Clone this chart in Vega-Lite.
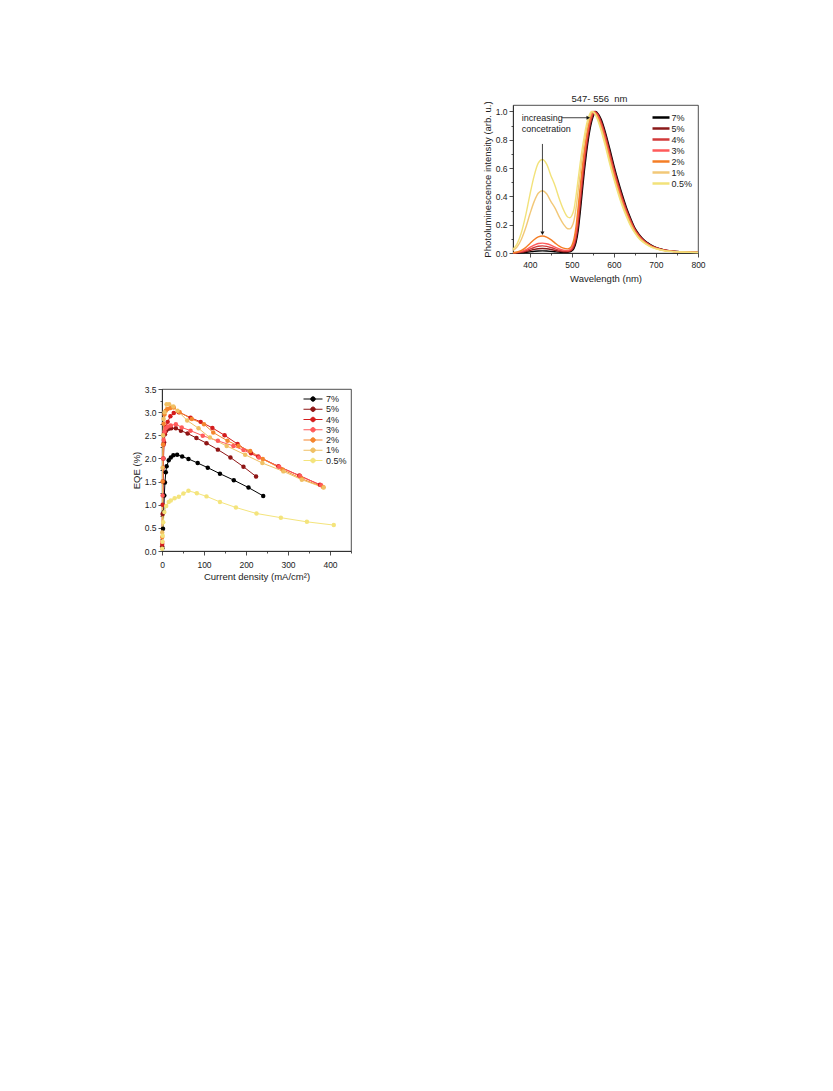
{
"$schema": "https://vega.github.io/schema/vega-lite/v6.json",
"background": "white",
"padding": {"left": 130, "top": 93, "right": 5, "bottom": 5},
"config": {
 "font": "Liberation Sans",
 "view": {"stroke": "#222222", "strokeWidth": 0.8},
 "axis": {"grid": false, "domainColor": "#222222", "domainWidth": 0.8, "tickColor": "#222222", "tickWidth": 0.8, "labelFont": "Liberation Sans", "labelFontSize": 8.5, "labelColor": "#222222", "titleFont": "Liberation Sans", "titleFontSize": 9.5, "titleFontWeight": "normal", "titleColor": "#222222", "labelPadding": 2, "titlePadding": 3, "labelOverlap": false, "labelFlush": false},
 "legend": {"labelFont": "Liberation Sans", "labelFontSize": 9, "labelColor": "#222222", "padding": 0}
},
"datasets": {
 "eqe": [
  {"c":"7%","j":0.8,"e":0.06},{"c":"7%","j":2.4,"e":0.48},{"c":"7%","j":4,"e":0.84},{"c":"7%","j":5.5,"e":1.2},{"c":"7%","j":7,"e":1.48},{"c":"7%","j":9,"e":1.7},{"c":"7%","j":11,"e":1.83},{"c":"7%","j":16,"e":1.96},{"c":"7%","j":21,"e":2.02},{"c":"7%","j":27,"e":2.07},{"c":"7%","j":36,"e":2.08},{"c":"7%","j":48,"e":2.04},{"c":"7%","j":63,"e":1.99},{"c":"7%","j":85,"e":1.9},{"c":"7%","j":109,"e":1.8},{"c":"7%","j":138,"e":1.67},{"c":"7%","j":171,"e":1.53},{"c":"7%","j":206,"e":1.37},{"c":"7%","j":241,"e":1.19},
  {"c":"5%","j":0.5,"e":0.1},{"c":"5%","j":1.5,"e":0.8},{"c":"5%","j":2.5,"e":1.5},{"c":"5%","j":3.5,"e":2.0},{"c":"5%","j":5,"e":2.35},{"c":"5%","j":7,"e":2.52},{"c":"5%","j":10,"e":2.6},{"c":"5%","j":16,"e":2.64},{"c":"5%","j":22,"e":2.65},{"c":"5%","j":33,"e":2.65},{"c":"5%","j":45,"e":2.6},{"c":"5%","j":61,"e":2.54},{"c":"5%","j":82,"e":2.44},{"c":"5%","j":106,"e":2.33},{"c":"5%","j":133,"e":2.19},{"c":"5%","j":163,"e":2.02},{"c":"5%","j":194,"e":1.82},{"c":"5%","j":224,"e":1.61},
  {"c":"4%","j":0.5,"e":0.15},{"c":"4%","j":1.5,"e":1.0},{"c":"4%","j":2.5,"e":1.8},{"c":"4%","j":4,"e":2.3},{"c":"4%","j":6,"e":2.55},{"c":"4%","j":9,"e":2.68},{"c":"4%","j":13.5,"e":2.79},{"c":"4%","j":20,"e":2.91},{"c":"4%","j":28,"e":2.98},{"c":"4%","j":40,"e":3.0},{"c":"4%","j":68,"e":2.88},{"c":"4%","j":92,"e":2.79},{"c":"4%","j":120,"e":2.66},{"c":"4%","j":149,"e":2.5},{"c":"4%","j":180,"e":2.31},{"c":"4%","j":212,"e":2.11},{"c":"4%","j":229,"e":2.04},{"c":"4%","j":277,"e":1.83},{"c":"4%","j":327,"e":1.63},{"c":"4%","j":376,"e":1.43},
  {"c":"3%","j":0.5,"e":0.2},{"c":"3%","j":1.5,"e":1.2},{"c":"3%","j":2.5,"e":2.0},{"c":"3%","j":4,"e":2.4},{"c":"3%","j":6,"e":2.58},{"c":"3%","j":9,"e":2.65},{"c":"3%","j":14,"e":2.69},{"c":"3%","j":21,"e":2.71},{"c":"3%","j":33,"e":2.74},{"c":"3%","j":47,"e":2.67},{"c":"3%","j":68,"e":2.6},{"c":"3%","j":97,"e":2.49},{"c":"3%","j":133,"e":2.38},{"c":"3%","j":170,"e":2.27},{"c":"3%","j":194,"e":2.18},{"c":"3%","j":231,"e":2.02},{"c":"3%","j":279,"e":1.82},{"c":"3%","j":329,"e":1.62},{"c":"3%","j":379,"e":1.42},
  {"c":"2%","j":0.5,"e":0.3},{"c":"2%","j":1.5,"e":1.5},{"c":"2%","j":2.5,"e":2.3},{"c":"2%","j":4,"e":2.75},{"c":"2%","j":6,"e":2.95},{"c":"2%","j":9,"e":3.03},{"c":"2%","j":13.5,"e":3.07},{"c":"2%","j":20,"e":3.09},{"c":"2%","j":28,"e":3.1},{"c":"2%","j":42,"e":3.0},{"c":"2%","j":71,"e":2.85},{"c":"2%","j":100,"e":2.74},{"c":"2%","j":122,"e":2.56},{"c":"2%","j":156,"e":2.38},{"c":"2%","j":182,"e":2.27},{"c":"2%","j":210,"e":2.16},{"c":"2%","j":240,"e":1.99},{"c":"2%","j":287,"e":1.76},{"c":"2%","j":333,"e":1.56},{"c":"2%","j":384,"e":1.38},
  {"c":"1%","j":0.5,"e":0.4},{"c":"1%","j":1.5,"e":1.8},{"c":"1%","j":2.5,"e":2.5},{"c":"1%","j":4,"e":2.85},{"c":"1%","j":6,"e":3.0},{"c":"1%","j":11,"e":3.17},{"c":"1%","j":17,"e":3.17},{"c":"1%","j":27,"e":3.12},{"c":"1%","j":37,"e":3.03},{"c":"1%","j":60,"e":2.82},{"c":"1%","j":87,"e":2.65},{"c":"1%","j":114,"e":2.45},{"c":"1%","j":154,"e":2.27},{"c":"1%","j":198,"e":2.08},{"c":"1%","j":239,"e":1.9},{"c":"1%","j":289,"e":1.72},{"c":"1%","j":333,"e":1.54},{"c":"1%","j":385,"e":1.37},
  {"c":"0.5%","j":0.3,"e":0.05},{"c":"0.5%","j":1,"e":0.2},{"c":"0.5%","j":1.6,"e":0.33},{"c":"0.5%","j":3,"e":0.62},{"c":"0.5%","j":5.6,"e":0.84},{"c":"0.5%","j":10,"e":0.97},{"c":"0.5%","j":16,"e":1.06},{"c":"0.5%","j":21,"e":1.09},{"c":"0.5%","j":30,"e":1.14},{"c":"0.5%","j":40,"e":1.17},{"c":"0.5%","j":51,"e":1.24},{"c":"0.5%","j":63,"e":1.3},{"c":"0.5%","j":83,"e":1.25},{"c":"0.5%","j":106,"e":1.18},{"c":"0.5%","j":138,"e":1.06},{"c":"0.5%","j":176,"e":0.94},{"c":"0.5%","j":225,"e":0.81},{"c":"0.5%","j":283,"e":0.72},{"c":"0.5%","j":345,"e":0.63},{"c":"0.5%","j":409,"e":0.56}
 ],
 "pl": [
  {"c":"7%","w":360,"v":0.0003},{"c":"7%","w":370,"v":0.0009},{"c":"7%","w":380,"v":0.0023},{"c":"7%","w":390,"v":0.0048},{"c":"7%","w":400,"v":0.0083},{"c":"7%","w":410,"v":0.0117},{"c":"7%","w":420,"v":0.0143},{"c":"7%","w":430,"v":0.015},{"c":"7%","w":440,"v":0.014},{"c":"7%","w":450,"v":0.0117},{"c":"7%","w":460,"v":0.0087},{"c":"7%","w":470,"v":0.006},{"c":"7%","w":480,"v":0.0044},{"c":"7%","w":490,"v":0.0053},{"c":"7%","w":495,"v":0.0083},{"c":"7%","w":500,"v":0.015},{"c":"7%","w":505,"v":0.033},{"c":"7%","w":510,"v":0.075},{"c":"7%","w":515,"v":0.157},{"c":"7%","w":520,"v":0.29},{"c":"7%","w":525,"v":0.44},{"c":"7%","w":530,"v":0.586},{"c":"7%","w":535,"v":0.712},{"c":"7%","w":540,"v":0.818},{"c":"7%","w":545,"v":0.902},{"c":"7%","w":550,"v":0.958},{"c":"7%","w":555,"v":0.995},{"c":"7%","w":556,"v":1.0},{"c":"7%","w":560,"v":0.992},{"c":"7%","w":570,"v":0.942},{"c":"7%","w":580,"v":0.85},{"c":"7%","w":590,"v":0.738},{"c":"7%","w":600,"v":0.619},{"c":"7%","w":610,"v":0.51},{"c":"7%","w":620,"v":0.411},{"c":"7%","w":630,"v":0.32},{"c":"7%","w":640,"v":0.244},{"c":"7%","w":650,"v":0.176},{"c":"7%","w":660,"v":0.132},{"c":"7%","w":670,"v":0.097},{"c":"7%","w":680,"v":0.073},{"c":"7%","w":690,"v":0.054},{"c":"7%","w":700,"v":0.04},{"c":"7%","w":720,"v":0.022},{"c":"7%","w":740,"v":0.013},{"c":"7%","w":760,"v":0.0088},{"c":"7%","w":780,"v":0.0062},{"c":"7%","w":800,"v":0.0046},
  {"c":"5%","w":360,"v":0.0006},{"c":"5%","w":370,"v":0.0019},{"c":"5%","w":380,"v":0.0048},{"c":"5%","w":390,"v":0.0102},{"c":"5%","w":400,"v":0.0176},{"c":"5%","w":410,"v":0.025},{"c":"5%","w":420,"v":0.0304},{"c":"5%","w":430,"v":0.032},{"c":"5%","w":440,"v":0.0298},{"c":"5%","w":450,"v":0.025},{"c":"5%","w":460,"v":0.0186},{"c":"5%","w":470,"v":0.0128},{"c":"5%","w":480,"v":0.009},{"c":"5%","w":490,"v":0.009},{"c":"5%","w":495,"v":0.012},{"c":"5%","w":500,"v":0.021},{"c":"5%","w":505,"v":0.045},{"c":"5%","w":510,"v":0.097},{"c":"5%","w":515,"v":0.196},{"c":"5%","w":520,"v":0.336},{"c":"5%","w":525,"v":0.485},{"c":"5%","w":530,"v":0.625},{"c":"5%","w":535,"v":0.745},{"c":"5%","w":540,"v":0.845},{"c":"5%","w":545,"v":0.92},{"c":"5%","w":550,"v":0.97},{"c":"5%","w":554.5,"v":1.0},{"c":"5%","w":560,"v":0.988},{"c":"5%","w":570,"v":0.93},{"c":"5%","w":580,"v":0.835},{"c":"5%","w":590,"v":0.72},{"c":"5%","w":600,"v":0.603},{"c":"5%","w":610,"v":0.495},{"c":"5%","w":620,"v":0.398},{"c":"5%","w":630,"v":0.309},{"c":"5%","w":640,"v":0.235},{"c":"5%","w":650,"v":0.17},{"c":"5%","w":660,"v":0.127},{"c":"5%","w":670,"v":0.094},{"c":"5%","w":680,"v":0.07},{"c":"5%","w":690,"v":0.051},{"c":"5%","w":700,"v":0.038},{"c":"5%","w":720,"v":0.021},{"c":"5%","w":740,"v":0.0125},{"c":"5%","w":760,"v":0.0085},{"c":"5%","w":780,"v":0.006},{"c":"5%","w":800,"v":0.0045},
  {"c":"4%","w":360,"v":0.001},{"c":"4%","w":370,"v":0.003},{"c":"4%","w":380,"v":0.0075},{"c":"4%","w":390,"v":0.016},{"c":"4%","w":400,"v":0.0275},{"c":"4%","w":410,"v":0.039},{"c":"4%","w":420,"v":0.0475},{"c":"4%","w":430,"v":0.05},{"c":"4%","w":440,"v":0.0465},{"c":"4%","w":450,"v":0.039},{"c":"4%","w":460,"v":0.029},{"c":"4%","w":470,"v":0.02},{"c":"4%","w":480,"v":0.014},{"c":"4%","w":490,"v":0.013},{"c":"4%","w":495,"v":0.017},{"c":"4%","w":500,"v":0.028},{"c":"4%","w":505,"v":0.058},{"c":"4%","w":510,"v":0.119},{"c":"4%","w":515,"v":0.236},{"c":"4%","w":520,"v":0.381},{"c":"4%","w":525,"v":0.53},{"c":"4%","w":530,"v":0.664},{"c":"4%","w":535,"v":0.778},{"c":"4%","w":540,"v":0.872},{"c":"4%","w":545,"v":0.938},{"c":"4%","w":550,"v":0.982},{"c":"4%","w":553,"v":1.0},{"c":"4%","w":560,"v":0.983},{"c":"4%","w":570,"v":0.918},{"c":"4%","w":580,"v":0.82},{"c":"4%","w":590,"v":0.702},{"c":"4%","w":600,"v":0.586},{"c":"4%","w":610,"v":0.478},{"c":"4%","w":620,"v":0.384},{"c":"4%","w":630,"v":0.298},{"c":"4%","w":640,"v":0.226},{"c":"4%","w":650,"v":0.164},{"c":"4%","w":660,"v":0.122},{"c":"4%","w":670,"v":0.09},{"c":"4%","w":680,"v":0.067},{"c":"4%","w":690,"v":0.049},{"c":"4%","w":700,"v":0.037},{"c":"4%","w":720,"v":0.02},{"c":"4%","w":740,"v":0.012},{"c":"4%","w":760,"v":0.0082},{"c":"4%","w":780,"v":0.0058},{"c":"4%","w":800,"v":0.0044},
  {"c":"3%","w":360,"v":0.001},{"c":"3%","w":370,"v":0.004},{"c":"3%","w":380,"v":0.011},{"c":"3%","w":390,"v":0.022},{"c":"3%","w":400,"v":0.039},{"c":"3%","w":410,"v":0.055},{"c":"3%","w":420,"v":0.067},{"c":"3%","w":430,"v":0.07},{"c":"3%","w":440,"v":0.065},{"c":"3%","w":450,"v":0.055},{"c":"3%","w":460,"v":0.041},{"c":"3%","w":470,"v":0.028},{"c":"3%","w":480,"v":0.02},{"c":"3%","w":490,"v":0.018},{"c":"3%","w":495,"v":0.022},{"c":"3%","w":500,"v":0.037},{"c":"3%","w":505,"v":0.073},{"c":"3%","w":510,"v":0.147},{"c":"3%","w":515,"v":0.278},{"c":"3%","w":520,"v":0.426},{"c":"3%","w":525,"v":0.574},{"c":"3%","w":530,"v":0.701},{"c":"3%","w":535,"v":0.809},{"c":"3%","w":540,"v":0.896},{"c":"3%","w":545,"v":0.954},{"c":"3%","w":551.5,"v":1.0},{"c":"3%","w":560,"v":0.977},{"c":"3%","w":570,"v":0.905},{"c":"3%","w":580,"v":0.804},{"c":"3%","w":590,"v":0.684},{"c":"3%","w":600,"v":0.57},{"c":"3%","w":610,"v":0.465},{"c":"3%","w":620,"v":0.37},{"c":"3%","w":630,"v":0.287},{"c":"3%","w":640,"v":0.217},{"c":"3%","w":650,"v":0.158},{"c":"3%","w":660,"v":0.117},{"c":"3%","w":670,"v":0.086},{"c":"3%","w":680,"v":0.064},{"c":"3%","w":690,"v":0.047},{"c":"3%","w":700,"v":0.035},{"c":"3%","w":720,"v":0.019},{"c":"3%","w":740,"v":0.0115},{"c":"3%","w":760,"v":0.0079},{"c":"3%","w":780,"v":0.0056},{"c":"3%","w":800,"v":0.0043},
  {"c":"2%","w":360,"v":0.002},{"c":"2%","w":370,"v":0.007},{"c":"2%","w":380,"v":0.018},{"c":"2%","w":390,"v":0.038},{"c":"2%","w":400,"v":0.066},{"c":"2%","w":410,"v":0.094},{"c":"2%","w":420,"v":0.114},{"c":"2%","w":430,"v":0.12},{"c":"2%","w":440,"v":0.112},{"c":"2%","w":450,"v":0.094},{"c":"2%","w":460,"v":0.07},{"c":"2%","w":470,"v":0.048},{"c":"2%","w":480,"v":0.034},{"c":"2%","w":490,"v":0.029},{"c":"2%","w":495,"v":0.034},{"c":"2%","w":500,"v":0.053},{"c":"2%","w":505,"v":0.099},{"c":"2%","w":510,"v":0.189},{"c":"2%","w":515,"v":0.325},{"c":"2%","w":520,"v":0.472},{"c":"2%","w":525,"v":0.613},{"c":"2%","w":530,"v":0.734},{"c":"2%","w":535,"v":0.836},{"c":"2%","w":540,"v":0.914},{"c":"2%","w":545,"v":0.966},{"c":"2%","w":550,"v":1.0},{"c":"2%","w":555,"v":0.989},{"c":"2%","w":560,"v":0.968},{"c":"2%","w":570,"v":0.89},{"c":"2%","w":580,"v":0.786},{"c":"2%","w":590,"v":0.666},{"c":"2%","w":600,"v":0.553},{"c":"2%","w":610,"v":0.45},{"c":"2%","w":620,"v":0.357},{"c":"2%","w":630,"v":0.277},{"c":"2%","w":640,"v":0.208},{"c":"2%","w":650,"v":0.152},{"c":"2%","w":660,"v":0.111},{"c":"2%","w":670,"v":0.082},{"c":"2%","w":680,"v":0.061},{"c":"2%","w":690,"v":0.045},{"c":"2%","w":700,"v":0.033},{"c":"2%","w":720,"v":0.018},{"c":"2%","w":740,"v":0.011},{"c":"2%","w":760,"v":0.0076},{"c":"2%","w":780,"v":0.0054},{"c":"2%","w":800,"v":0.0042},
  {"c":"1%","w":360,"v":0.018},{"c":"1%","w":370,"v":0.044},{"c":"1%","w":380,"v":0.097},{"c":"1%","w":390,"v":0.176},{"c":"1%","w":400,"v":0.273},{"c":"1%","w":410,"v":0.361},{"c":"1%","w":420,"v":0.422},{"c":"1%","w":430,"v":0.44},{"c":"1%","w":440,"v":0.418},{"c":"1%","w":450,"v":0.365},{"c":"1%","w":460,"v":0.317},{"c":"1%","w":470,"v":0.255},{"c":"1%","w":480,"v":0.204},{"c":"1%","w":490,"v":0.171},{"c":"1%","w":495,"v":0.17},{"c":"1%","w":500,"v":0.186},{"c":"1%","w":505,"v":0.228},{"c":"1%","w":510,"v":0.318},{"c":"1%","w":515,"v":0.44},{"c":"1%","w":520,"v":0.568},{"c":"1%","w":525,"v":0.686},{"c":"1%","w":530,"v":0.789},{"c":"1%","w":535,"v":0.876},{"c":"1%","w":540,"v":0.941},{"c":"1%","w":545,"v":0.982},{"c":"1%","w":548,"v":1.0},{"c":"1%","w":555,"v":0.985},{"c":"1%","w":560,"v":0.959},{"c":"1%","w":570,"v":0.875},{"c":"1%","w":580,"v":0.768},{"c":"1%","w":590,"v":0.648},{"c":"1%","w":600,"v":0.536},{"c":"1%","w":610,"v":0.435},{"c":"1%","w":620,"v":0.344},{"c":"1%","w":630,"v":0.266},{"c":"1%","w":640,"v":0.199},{"c":"1%","w":650,"v":0.146},{"c":"1%","w":660,"v":0.106},{"c":"1%","w":670,"v":0.079},{"c":"1%","w":680,"v":0.058},{"c":"1%","w":690,"v":0.042},{"c":"1%","w":700,"v":0.031},{"c":"1%","w":720,"v":0.017},{"c":"1%","w":740,"v":0.0105},{"c":"1%","w":760,"v":0.0073},{"c":"1%","w":780,"v":0.0052},{"c":"1%","w":800,"v":0.004},
  {"c":"0.5%","w":360,"v":0.026},{"c":"0.5%","w":370,"v":0.066},{"c":"0.5%","w":380,"v":0.145},{"c":"0.5%","w":390,"v":0.264},{"c":"0.5%","w":400,"v":0.409},{"c":"0.5%","w":410,"v":0.541},{"c":"0.5%","w":420,"v":0.634},{"c":"0.5%","w":430,"v":0.66},{"c":"0.5%","w":440,"v":0.627},{"c":"0.5%","w":450,"v":0.548},{"c":"0.5%","w":460,"v":0.475},{"c":"0.5%","w":470,"v":0.383},{"c":"0.5%","w":480,"v":0.306},{"c":"0.5%","w":490,"v":0.254},{"c":"0.5%","w":495,"v":0.249},{"c":"0.5%","w":500,"v":0.265},{"c":"0.5%","w":505,"v":0.308},{"c":"0.5%","w":510,"v":0.405},{"c":"0.5%","w":515,"v":0.522},{"c":"0.5%","w":520,"v":0.639},{"c":"0.5%","w":525,"v":0.743},{"c":"0.5%","w":530,"v":0.833},{"c":"0.5%","w":535,"v":0.91},{"c":"0.5%","w":540,"v":0.963},{"c":"0.5%","w":547,"v":1.0},{"c":"0.5%","w":555,"v":0.98},{"c":"0.5%","w":560,"v":0.95},{"c":"0.5%","w":570,"v":0.86},{"c":"0.5%","w":580,"v":0.75},{"c":"0.5%","w":590,"v":0.63},{"c":"0.5%","w":600,"v":0.52},{"c":"0.5%","w":610,"v":0.42},{"c":"0.5%","w":620,"v":0.33},{"c":"0.5%","w":630,"v":0.255},{"c":"0.5%","w":640,"v":0.19},{"c":"0.5%","w":650,"v":0.14},{"c":"0.5%","w":660,"v":0.1},{"c":"0.5%","w":670,"v":0.075},{"c":"0.5%","w":680,"v":0.055},{"c":"0.5%","w":690,"v":0.04},{"c":"0.5%","w":700,"v":0.03},{"c":"0.5%","w":720,"v":0.016},{"c":"0.5%","w":740,"v":0.01},{"c":"0.5%","w":760,"v":0.007},{"c":"0.5%","w":780,"v":0.005},{"c":"0.5%","w":800,"v":0.004}
 ],
 "arrows": [{"a":"h","w":476,"v":0.955},{"a":"h","w":536,"v":0.955},{"a":"v","w":430,"v":0.77},{"a":"v","w":430,"v":0.15}],
 "heads": [{"w":539,"v":0.955,"s":"triangle-right"},{"w":430,"v":0.14,"s":"triangle-down"}],
 "notes": [{"w":381,"v":0.955,"t":"increasing"},{"w":381,"v":0.877,"t":"concetration"}]
},
"resolve": {"scale": {"color": "independent"}},
"bounds": "flush",
"spacing": 351,
"hconcat": [
 {"bounds": "flush", "spacing": 83, "vconcat": [
  {"width": 189, "height": 201, "data": {"values": [{"k": 1}]}, "mark": {"type": "text", "text": " "}, "encoding": {}, "view": {"stroke": null}},
  {"width": 189, "height": 162, "data": {"name": "eqe"},
   "encoding": {
    "x": {"field": "j", "type": "quantitative", "scale": {"domain": [0, 450], "nice": false, "zero": false},
      "axis": {"title": "Current density (mA/cm²)", "values": [0,50,100,150,200,250,300,350,400,450], "labelExpr": "datum.value % 100 === 0 ? datum.label : ''", "tickSize": {"condition": {"test": "datum.value % 100 === 0", "value": 4}, "value": 2}, "labelPadding": 5}},
    "y": {"field": "e", "type": "quantitative", "scale": {"domain": [0, 3.5], "nice": false},
      "axis": {"title": "EQE (%)", "values": [0,0.25,0.5,0.75,1,1.25,1.5,1.75,2,2.25,2.5,2.75,3,3.25,3.5], "format": ".1f", "labelExpr": "round(datum.value*4) % 2 === 0 ? datum.label : ''", "tickSize": {"condition": {"test": "round(datum.value*4) % 2 === 0", "value": 4}, "value": 2}}},
    "color": {"field": "c", "type": "nominal", "sort": ["7%","5%","4%","3%","2%","1%","0.5%"],
      "scale": {"domain": ["7%","5%","4%","3%","2%","1%","0.5%"], "range": ["#000000","#8f1515","#d41c1c","#ff5a5a","#f5852e","#f0c064","#f4e47c"]},
      "legend": {"title": null, "orient": "none", "legendX": 146, "legendY": 289, "symbolType": "M-2.11,0H2.11M-0.5,0A0.5,0.5,0,1,1,0.5,0A0.5,0.5,0,1,1,-0.5,0Z", "symbolSize": 81, "symbolStrokeWidth": 1, "labelOffset": 8, "rowPadding": 0.25,
        "encode": {"symbols": {"update": {
          "fill": {"signal": "datum.value==='7%'?'#000000':datum.value==='5%'?'#8f1515':datum.value==='4%'?'#d41c1c':datum.value==='3%'?'#ff5a5a':datum.value==='2%'?'#f5852e':datum.value==='1%'?'#f0c064':'#f4e47c'"},
          "stroke": {"signal": "datum.value==='7%'?'#000000':datum.value==='5%'?'#8f1515':datum.value==='4%'?'#d41c1c':datum.value==='3%'?'#ff5a5a':datum.value==='2%'?'#f5852e':datum.value==='1%'?'#f0c064':'#f4e47c'"},
          "opacity": {"value": 1}, "fillOpacity": {"value": 1}, "strokeOpacity": {"value": 1}}}}}}
   },
   "layer": [
    {"mark": {"type": "line", "strokeWidth": 1}},
    {"mark": {"type": "point", "filled": true, "size": 20, "opacity": 1}}
   ]}
 ]},
 {"width": 185, "height": 148,
  "title": {"text": "547- 556\u00a0 nm", "fontSize": 9.5, "fontWeight": "normal", "font": "Liberation Sans", "color": "#222222", "offset": -3, "dx": -6},
  "encoding": {
   "x": {"field": "w", "type": "quantitative", "scale": {"domain": [360, 800], "nice": false, "zero": false},
     "axis": {"title": "Wavelength (nm)", "values": [400,450,500,550,600,650,700,750,800], "labelExpr": "datum.value % 100 === 0 ? datum.label : ''", "tickSize": {"condition": {"test": "datum.value % 100 === 0", "value": 4}, "value": 2}, "labelPadding": 3, "titlePadding": 5}},
   "y": {"field": "v", "type": "quantitative", "scale": {"domain": [0, 1.045], "nice": false},
     "axis": {"title": "Photoluminescence intensity (arb. u.)", "values": [0,0.1,0.2,0.3,0.4,0.5,0.6,0.7,0.8,0.9,1.0], "format": ".1f", "labelExpr": "round(datum.value*10) % 2 === 0 ? datum.label : ''", "tickSize": {"condition": {"test": "round(datum.value*10) % 2 === 0", "value": 4}, "value": 2}}}
  },
  "layer": [
   {"data": {"name": "pl"}, "mark": {"type": "line", "strokeWidth": 1.4, "interpolate": "monotone"},
    "encoding": {"color": {"field": "c", "type": "nominal", "sort": ["7%","5%","4%","3%","2%","1%","0.5%"],
      "scale": {"domain": ["7%","5%","4%","3%","2%","1%","0.5%"], "range": ["#000000","#8b1a1a","#d23a3a","#ff5a5a","#f47e26","#f2c878","#f2e27a"]},
      "legend": {"title": null, "orient": "none", "legendX": 142.5, "legendY": 7, "symbolType": "M-2.125,0H2.125", "symbolSize": 64, "symbolStrokeWidth": 2.5, "labelOffset": 5, "rowPadding": 0}}}},
   {"data": {"name": "arrows"}, "mark": {"type": "line", "color": "#111111", "strokeWidth": 0.8}, "encoding": {"detail": {"field": "a"}}},
   {"data": {"name": "heads"}, "mark": {"type": "point", "filled": true, "color": "#111111", "size": 16, "opacity": 1}, "encoding": {"shape": {"field": "s", "type": "nominal", "scale": null}}},
   {"data": {"name": "notes"}, "mark": {"type": "text", "align": "left", "baseline": "middle", "fontSize": 9, "color": "#222222"}, "encoding": {"text": {"field": "t"}}}
  ]}
]
}
